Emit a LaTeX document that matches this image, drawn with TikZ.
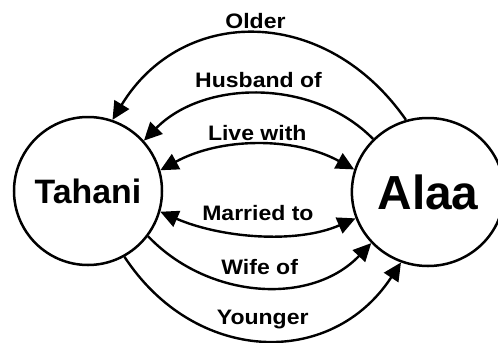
\documentclass[tikz,border=0pt]{standalone}
\usepackage{fontspec}
\setmainfont{Liberation Sans}
\newfontfamily\rellabel{Liberation Sans Bold}[FakeStretch=1.1]
\usetikzlibrary{arrows.meta,shapes.geometric}

\tikzset{
  person/.style={draw, line width=2.5bp, font=\bfseries},
  rel/.style={line width=2.4bp, -{Triangle[length=18bp,width=17bp]}},
  relboth/.style={line width=2.4bp, {Triangle[length=18bp,width=17bp]}-{Triangle[length=18bp,width=17bp]}},
  rellab/.style={anchor=base, inner sep=0pt, font=\rellabel\fontsize{21}{21}\selectfont},
}

\begin{document}
\begin{tikzpicture}[x=1bp,y=1bp]
\useasboundingbox (0,0) rectangle (498,342);

% Draw the two persons.
\node[person, circle, minimum size=148bp] (tahani) at (88,151) {\fontsize{34}{34}\selectfont Tahani};
\node[person, ellipse, minimum width=137bp, minimum height=148bp] (alaa) at (428,150) {\fontsize{48}{48}\selectfont Alaa};

% Relations from Alaa to Tahani.
\draw[rel] (alaa.107) .. controls +(-80,115) and +(70,115) .. (tahani.71) node[rellab, pos=.5, yshift=5bp] {Older};
\draw[rel] (alaa.136) .. controls +(-60,61) and +(60,61) .. (tahani.42) node[rellab, pos=.5, yshift=7bp] {Husband of};

% Relations both ways.
\draw[relboth] (tahani.16) .. controls +(60,33) and +(-60,33) .. (alaa.163) node[rellab, pos=.5, yshift=5bp] {Live with};
\draw[relboth] (tahani.-16) .. controls +(60,-26) and +(-60,-26) .. (alaa.200) node[rellab, pos=.5, yshift=14bp] {Married to};

% Relations from Tahani to Alaa.
\draw[rel] (tahani.-37) .. controls +(60,-63) and +(-60,-63) .. (alaa.222) node[rellab, pos=.5, yshift=12bp] {Wife of};
\draw[rel] (tahani.-61) .. controls +(70,-107) and +(-70,-107) .. (alaa.249) node[rellab, pos=.5, yshift=15bp] {Younger};
\end{tikzpicture}
\end{document}
